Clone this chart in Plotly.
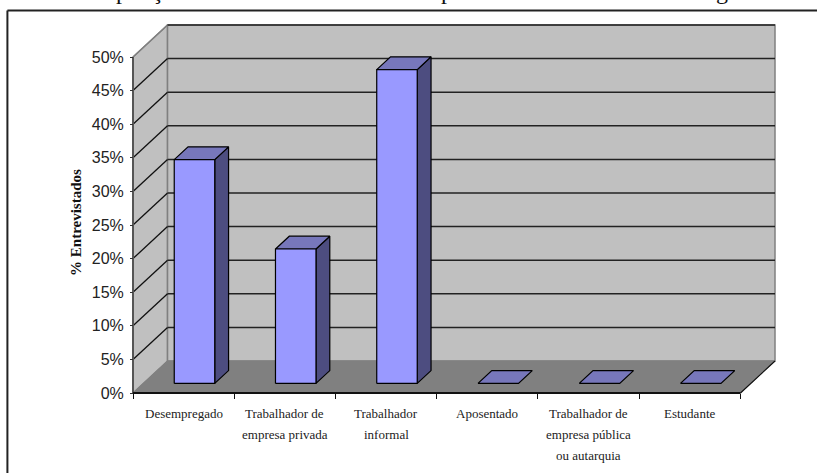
import plotly.graph_objects as go

# Occupation of the interviewees, percent of respondents
categories = [
    ["Desempregado"],
    ["Trabalhador de", "empresa privada"],
    ["Trabalhador", "informal"],
    ["Aposentado"],
    ["Trabalhador de", "empresa pública", "ou autarquia"],
    ["Estudante"],
]
values = [33.3, 20.0, 46.7, 0.0, 0.0, 0.0]
y_ticks = [0, 5, 10, 15, 20, 25, 30, 35, 40, 45, 50]
y_tick_labels = [f"{v}%" for v in y_ticks]
axis_title = "% Entrevistados"
heading_fragments = [("p", 122), ("ç", 157), ("p", 447), ("g", 722)]

WIDTH, HEIGHT = 817, 473
LEFT, BOTTOM = 133, 393          # pixel position of the axis origin
PX_PER_SLOT = 101.17
PX_PER_PCT = 6.72
PAD = 3

# Oblique projection of the 3D box, in axis units
DEPTH_X = 34.5 / PX_PER_SLOT
DEPTH_Y = 32 / PX_PER_PCT
BAR_WIDTH = 0.40
DEPTH_NEAR, DEPTH_FAR = 0.30, 0.70

WALL = "#C0C0C0"
FLOOR = "#808080"
EDGE = "#808080"
FRONT = "#9999FF"
TOP = "#7777BB"
SIDE = "#4D4D80"
SERIF = "Liberation Serif"
SANS = "Liberation Sans"

x_max = len(categories)
y_max = y_ticks[-1]
fig = go.Figure()


def face(xs, ys, fill, line_color, width):
    fig.add_trace(go.Scatter(
        x=xs + xs[:1], y=ys + ys[:1], mode="lines", fill="toself",
        fillcolor=fill, line=dict(color=line_color, width=width),
        hoverinfo="skip", showlegend=False,
    ))


def segment(xs, ys, color, width):
    fig.add_trace(go.Scatter(
        x=xs, y=ys, mode="lines", line=dict(color=color, width=width),
        hoverinfo="skip", showlegend=False,
    ))


# Box walls and floor
face([0, DEPTH_X, DEPTH_X, 0], [0, DEPTH_Y, y_max + DEPTH_Y, y_max], WALL, EDGE, 1.5)
face([DEPTH_X, x_max + DEPTH_X, x_max + DEPTH_X, DEPTH_X],
     [DEPTH_Y, DEPTH_Y, y_max + DEPTH_Y, y_max + DEPTH_Y], WALL, EDGE, 1.5)

# Gridlines wrap from the side wall onto the back wall
for v in y_ticks[1:]:
    side_color = EDGE if v == y_max else "#111111"
    segment([0, DEPTH_X], [v, v + DEPTH_Y], side_color, 1.3)
    segment([DEPTH_X, x_max + DEPTH_X], [v + DEPTH_Y, v + DEPTH_Y], "#222222", 1.5)

face([0, x_max, x_max + DEPTH_X, DEPTH_X], [0, 0, DEPTH_Y, DEPTH_Y], FLOOR, FLOOR, 1)

# Axis rules
segment([0, 0], [0, y_max], "#555555", 2)
segment([0, x_max], [0, 0], "#111111", 2)
segment([x_max, x_max + DEPTH_X], [0, DEPTH_Y], "#111111", 1.2)

# Bars: one front, side and top face per category
for i, v in enumerate(values):
    x0 = i + 0.5 - BAR_WIDTH / 2 + DEPTH_NEAR * DEPTH_X + 0.005
    x1 = x0 + BAR_WIDTH
    y0 = DEPTH_NEAR * DEPTH_Y
    dx = (DEPTH_FAR - DEPTH_NEAR) * DEPTH_X
    dy = (DEPTH_FAR - DEPTH_NEAR) * DEPTH_Y
    if v > 0:
        face([x1, x1 + dx, x1 + dx, x1], [y0, y0 + dy, y0 + v + dy, y0 + v], SIDE, "#000000", 1.2)
    face([x0, x1, x1 + dx, x0 + dx], [y0 + v, y0 + v, y0 + v + dy, y0 + v + dy], TOP, "#000000", 1.2)
    if v > 0:
        face([x0, x1, x1, x0], [y0, y0, y0 + v, y0 + v], FRONT, "#000000", 1.2)

annotations = []

# Category labels, one annotation per line for the wide line spacing
LINE_SHIFTS = [-20, -41.5, -62]
for i, lines in enumerate(categories):
    for line, shift in zip(lines, LINE_SHIFTS):
        annotations.append(dict(
            x=i + 0.5, y=0, xref="x", yref="y", text=line, showarrow=False,
            yshift=shift, xanchor="center", yanchor="middle",
            font=dict(family=SERIF, size=13, color="#222222"),
        ))

margin = dict(l=LEFT - PAD, r=WIDTH - (LEFT + x_max * PX_PER_SLOT + 34.5 + PAD),
              t=22, b=HEIGHT - BOTTOM - PAD)
plot_w = WIDTH - margin["l"] - margin["r"]
plot_h = HEIGHT - margin["t"] - margin["b"]


def paper_x(px):
    return (px - margin["l"]) / plot_w


def paper_y(px):
    return (HEIGHT - margin["b"] - px) / plot_h


annotations.append(dict(
    x=paper_x(76), y=paper_y(222), xref="paper", yref="paper", text=f"<b>{axis_title}</b>",
    textangle=-90, showarrow=False, xanchor="center", yanchor="middle",
    font=dict(family=SERIF, size=15, color="#111111"),
))

# Heading line running off the top of the page
for glyph, px in heading_fragments:
    annotations.append(dict(
        x=paper_x(px), y=paper_y(-9), xref="paper", yref="paper", text=glyph,
        showarrow=False, xanchor="center", yanchor="middle",
        font=dict(family=SERIF, size=24, color="#111111"),
    ))

# Outer frame, open on the right and at the bottom
frame = dict(type="line", xref="paper", yref="paper", line=dict(color="#222222", width=2))
shapes = [
    dict(frame, x0=paper_x(7.5), x1=paper_x(WIDTH), y0=paper_y(10.5), y1=paper_y(10.5)),
    dict(frame, x0=paper_x(7.5), x1=paper_x(7.5), y0=paper_y(10.5), y1=paper_y(HEIGHT)),
]

fig.update_layout(
    width=WIDTH, height=HEIGHT, autosize=False, margin=margin,
    paper_bgcolor="white", plot_bgcolor="white",
    annotations=annotations, shapes=shapes, showlegend=False,
    xaxis=dict(
        range=[-PAD / PX_PER_SLOT, x_max + DEPTH_X + PAD / PX_PER_SLOT],
        tickvals=list(range(x_max + 1)), ticktext=[""] * (x_max + 1),
        ticks="outside", ticklen=5, tickwidth=1.2, tickcolor="#111111",
        showgrid=False, zeroline=False, showline=False,
        anchor="free", position=PAD / plot_h, fixedrange=True,
    ),
    yaxis=dict(
        range=[-PAD / PX_PER_PCT, y_max + DEPTH_Y + PAD / PX_PER_PCT],
        tickvals=y_ticks, ticktext=y_tick_labels,
        ticks="outside", ticklen=3, tickwidth=1.2, tickcolor="#333333",
        tickfont=dict(family=SANS, size=16, color="#222222"),
        ticklabelstandoff=3,
        showgrid=False, zeroline=False, showline=False,
        anchor="free", position=PAD / plot_w, fixedrange=True,
    ),
)

fig.write_html("out.html", config=dict(displayModeBar=False))
